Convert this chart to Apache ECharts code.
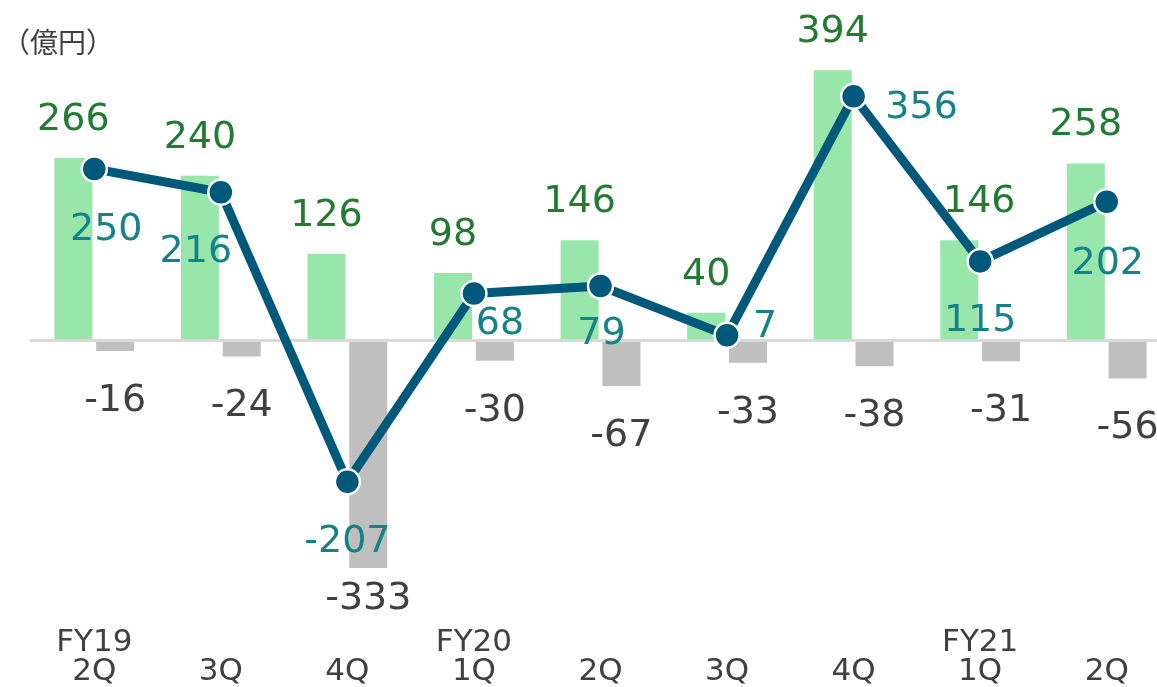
<!DOCTYPE html>
<html>
<head>
<meta charset="utf-8">
<script src="https://cdn.jsdelivr.net/npm/echarts@6/dist/echarts.min.js"></script>
<style>
  html, body { margin: 0; padding: 0; background: #fff; overflow: hidden; }
  /* 右端は画面外にはみ出す (元の図でも -56 が切れている) */
  #chart { width: 1170px; height: 687px; }
</style>
</head>
<body>
<div id="chart"></div>
<script>
// 四半期
const quarters = ['FY19\n2Q', '3Q', '4Q', 'FY20\n1Q', '2Q', '3Q', '4Q', 'FY21\n1Q', '2Q']
// 緑の棒 / 灰色の棒 / 折れ線
const gains = [266, 240, 126, 98, 146, 40, 394, 146, 258]
const losses = [-16, -24, -333, -30, -67, -33, -38, -31, -56]
const totals = [250, 216, -207, 68, 79, 7, 356, 115, 202]

// ラベル位置の微調整 (px)
const gainShift = [[0, 0], [0, 0], [0, 0], [0, 0], [0, 0], [0, 0], [0, 0], [20, 0], [0, 0]]
const lossShift = [[0, 0], [0, 0], [0, -19], [0, 0], [0, 0], [0, 0], [0, 0], [0, 0], [0, 0]]
const totalShift = [[12, 61], [-25, 60], [0, 60], [26, 31], [1, 48], [38, -8], [68, 12], [0, 60], [1, 62]]

const font = 'DejaVu Sans'

const mychart = echarts.init(document.getElementById('chart'))
const option = {
  animation: false,
  title: {
    text: '（億円）',
    left: -3,
    top: 23,
    textStyle: {
      fontFamily: 'Noto Sans CJK JP',
      fontSize: 28,
      fontWeight: 'normal',
      color: '#404040'
    }
  },
  grid: {
    left: 31,
    top: 32,
    right: 0,
    height: 582
  },
  xAxis: [
    {
      type: 'category',
      data: quarters,
      position: 'bottom',
      axisLine: { show: false, onZero: false },
      axisTick: { show: false },
      axisLabel: {
        interval: 0,
        margin: 72,
        verticalAlign: 'bottom',
        fontFamily: font,
        fontSize: 31,
        lineHeight: 29,
        color: '#404040'
      }
    },
    {
      // ゼロの線
      type: 'category',
      data: quarters,
      position: 'bottom',
      z: 3,
      axisLine: {
        show: true,
        onZero: true,
        lineStyle: { color: '#d9d9d9', width: 3 }
      },
      axisTick: { show: false },
      axisLabel: { show: false }
    }
  ],
  yAxis: {
    type: 'value',
    min: -400,
    max: 450,
    show: false,
    splitLine: { show: false }
  },
  series: [
    {
      type: 'bar',
      barWidth: 38,
      barGap: '10%',
      itemStyle: { color: '#99e6ab' },
      label: {
        show: true,
        position: 'top',
        distance: 19,
        fontFamily: font,
        fontSize: 38,
        color: '#237a33'
      },
      data: gains.map((v, i) => ({ value: v, label: { offset: gainShift[i] } }))
    },
    {
      type: 'bar',
      barWidth: 38,
      barGap: '10%',
      itemStyle: { color: '#bfbfbf' },
      label: {
        show: true,
        position: 'bottom',
        distance: 31,
        fontFamily: font,
        fontSize: 38,
        color: '#404040'
      },
      data: losses.map((v, i) => ({ value: v, label: { offset: lossShift[i] } }))
    },
    {
      type: 'line',
      z: 5,
      symbol: 'circle',
      symbolSize: 25,
      lineStyle: { color: '#00587a', width: 9 },
      itemStyle: { color: '#00587a', borderColor: '#fff', borderWidth: 2.5 },
      label: {
        show: true,
        position: 'inside',
        fontFamily: font,
        fontSize: 38,
        color: '#168288'
      },
      data: totals.map((v, i) => ({ value: v, label: { offset: totalShift[i] } }))
    }
  ]
}
mychart.setOption(option)
</script>
</body>
</html>
